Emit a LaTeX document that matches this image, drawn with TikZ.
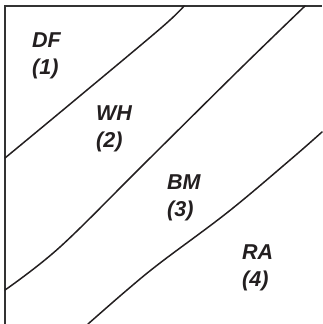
\documentclass[tikz,border=0pt]{standalone}
\usepackage{fontspec}
\setmainfont{Liberation Sans}
\usetikzlibrary{positioning}
\definecolor{cLine}{HTML}{231F20}
\definecolor{cFrame}{HTML}{333333}

\begin{document}
\begin{tikzpicture}[x=1pt, y=-1pt,
    zone/.style={inner sep=0pt, align=left, text=cLine,
      font=\fontsize{21.5}{27}\selectfont\bfseries\itshape},
    border/.style={line width=2pt, draw=cFrame},
    bound/.style={line width=1.5pt, draw=cLine, line cap=round}]
  \useasboundingbox (0,0) rectangle (322,324);
  % frame, left and top only
  \draw[border] (5,324) -- (5,6) -- (322,6);
  % zone boundaries
  \draw[bound] plot[smooth, tension=0.6] coordinates
    {(5,158) (75,100) (161,28) (184,6)};
  \draw[bound] plot[smooth, tension=0.6] coordinates
    {(5,290) (60,247) (145,163) (241,68) (305,6)};
  \draw[bound] plot[smooth, tension=0.6] coordinates
    {(88,324) (127,290) (160,263) (228,212) (290,160) (322,132)};
  % zone labels (anchored on the baseline of the second line)
  \foreach \name/\x/\y/\txt/\num in {%
      df/32/74/DF/1, wh/96/147/WH/2,
      bm/167/216/BM/3, ra/242/286/RA/4%
  }{
    \node[zone, anchor=base west] (\name) at (\x,\y) {\txt\\(\num)};
  }
\end{tikzpicture}
\end{document}
